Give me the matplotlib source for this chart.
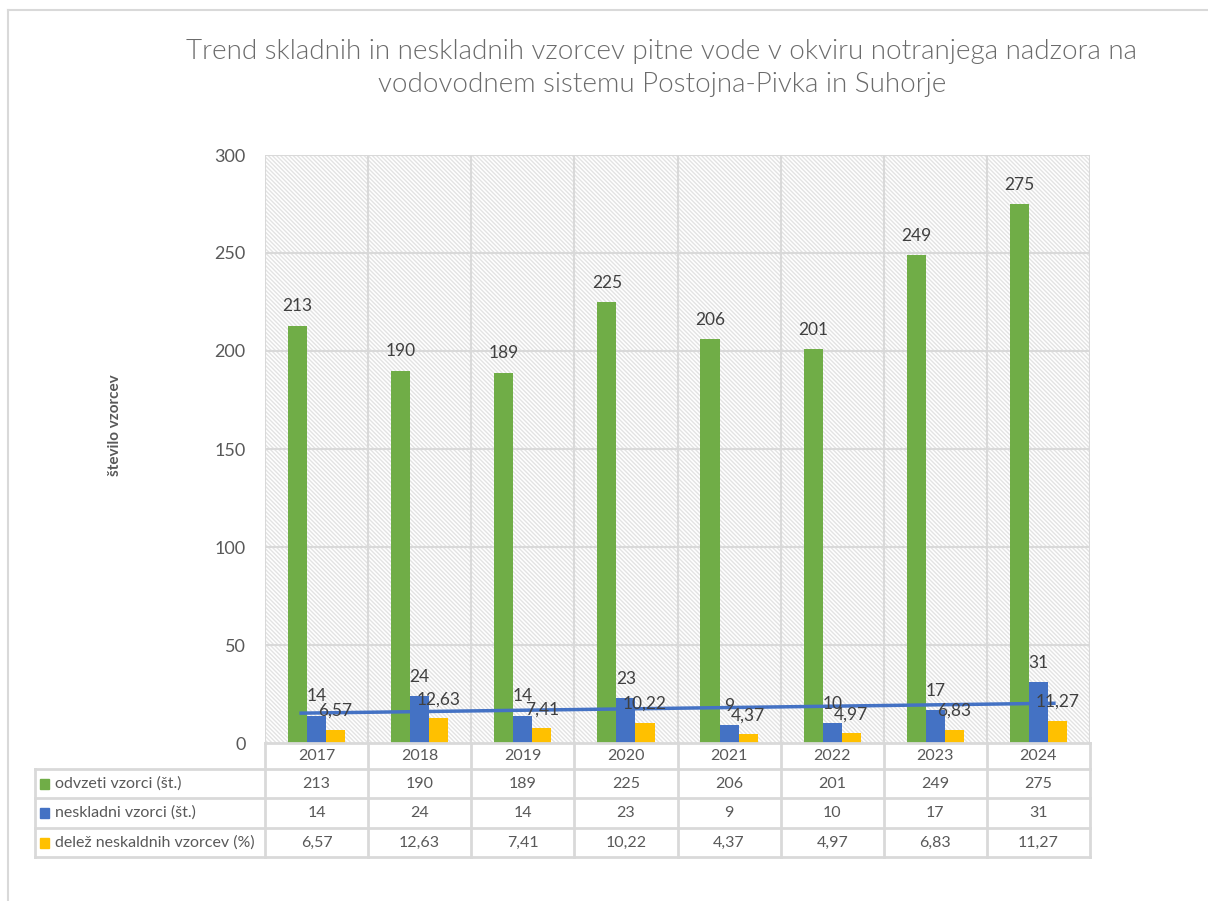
import numpy as np
import matplotlib; matplotlib.use("Agg")
import matplotlib.pyplot as plt
from matplotlib.patches import Rectangle
from matplotlib.lines import Line2D

plt.rcParams['font.family'] = ['Lato', 'DejaVu Sans']
plt.rcParams['hatch.linewidth'] = 1.0

years = ["2017", "2018", "2019", "2020", "2021", "2022", "2023", "2024"]
odvzeti = [213, 190, 189, 225, 206, 201, 249, 275]
neskladni = [14, 24, 14, 23, 9, 10, 17, 31]
delez = [6.57, 12.63, 7.41, 10.22, 4.37, 4.97, 6.83, 11.27]
series_names = ["odvzeti vzorci (št.)", "neskladni vzorci (št.)", "delež neskaldnih vzorcev (%)"]
colors = ["#70ad47", "#4472c4", "#ffc000"]
title = "Trend skladnih in neskladnih vzorcev pitne vode v okviru notranjega nadzora na\nvodovodnem sistemu Postojna-Pivka in Suhorje"

TXT = "#595959"
GRID = "#d9d9d9"
W, H = 1208, 901

def fmt(v):
    return f"{v:.2f}".replace(".", ",") if isinstance(v, float) else str(v)

fig = plt.figure(figsize=(W/100, H/100), dpi=100)
# outer chart frame
fig.add_artist(Line2D([8/W, 8/W], [0, 1-10/H], color=GRID, lw=1.5))
fig.add_artist(Line2D([8/W, 1], [1-10/H, 1-10/H], color=GRID, lw=1.5))

ax = fig.add_axes([265/W, 1-743/H, 825/W, 588/H])
ax.set_xlim(-0.5, 7.5); ax.set_ylim(0, 300)
ax.add_patch(Rectangle((0, 0), 1, 1, transform=ax.transAxes, facecolor="white",
                       edgecolor="#e3e3e3", hatch="\\\\\\\\\\\\\\\\", lw=0, zorder=0))
for y in range(50, 301, 50):
    ax.axhline(y, color=GRID, lw=1.5, zorder=1)
for i in range(9):
    ax.axvline(i-0.5, color=GRID, lw=1.5, zorder=1)
for s in ax.spines.values():
    s.set_visible(False)

x = np.arange(len(years))
bw = 0.185
for k, (vals, c) in enumerate(zip([odvzeti, neskladni, delez], colors)):
    xs = x + (k-1)*bw
    ax.bar(xs, vals, bw, color=c, zorder=3)
    for xi, v in zip(xs, vals):
        ax.annotate(fmt(v), (xi, v), xytext=(0, 8), textcoords="offset points",
                    ha="center", va="bottom", fontsize=12.5, color="#404040", zorder=5)

# linear trendline of neskladni vzorci
p = np.polyfit(x, neskladni, 1)
xt = np.array([-0.15, 7.15])
ax.plot(xt, np.polyval(p, xt), color="#4472c4", lw=2.5, zorder=4)

ax.set_xticks([]); ax.set_yticks(range(0, 301, 50))
ax.tick_params(axis="y", length=0, pad=14, labelsize=13, labelcolor=TXT)

fig.text(662/W, 1-68/H, title, ha="center", va="center", fontsize=20, fontweight=300,
         color="#6b6b6b", linespacing=1.4)
fig.text(115/W, 1-425/H, "število vzorcev", rotation=90, ha="center", va="center",
         fontsize=11, fontweight="bold", color=TXT)

# data table under the axis
rows_px = [743, 769, 798, 828, 857]
to_fy = lambda py: 1-py/H
left_px, col0_px, right_px = 35, 265, 1090
colw = (right_px-col0_px)/len(years)
def hl(py, x0, x1):
    fig.add_artist(Line2D([x0/W, x1/W], [to_fy(py)]*2, color=GRID, lw=2))
def vl(px, y0, y1):
    fig.add_artist(Line2D([px/W]*2, [to_fy(y0), to_fy(y1)], color=GRID, lw=2))
for py in rows_px[1:]:
    hl(py, left_px, right_px)
hl(rows_px[0], col0_px, right_px)
vl(left_px, rows_px[1], rows_px[4])
for i in range(len(years)+1):
    vl(col0_px+i*colw, rows_px[0], rows_px[4])
for i, yr in enumerate(years):
    fig.text((col0_px+(i+0.5)*colw)/W, to_fy((rows_px[0]+rows_px[1])/2), yr,
             ha="center", va="center", fontsize=11.5, color=TXT)
for r, (name, vals, c) in enumerate(zip(series_names, [odvzeti, neskladni, delez], colors)):
    yc = (rows_px[r+1]+rows_px[r+2])/2
    fig.add_artist(Rectangle((40/W, to_fy(yc+5)), 9/W, 10/H, color=c))
    fig.text(55/W, to_fy(yc), name, ha="left", va="center", fontsize=11.5, color=TXT)
    for i, v in enumerate(vals):
        fig.text((col0_px+(i+0.5)*colw)/W, to_fy(yc), fmt(v),
                 ha="center", va="center", fontsize=11.5, color=TXT)

fig.savefig("out.png", dpi=100)
